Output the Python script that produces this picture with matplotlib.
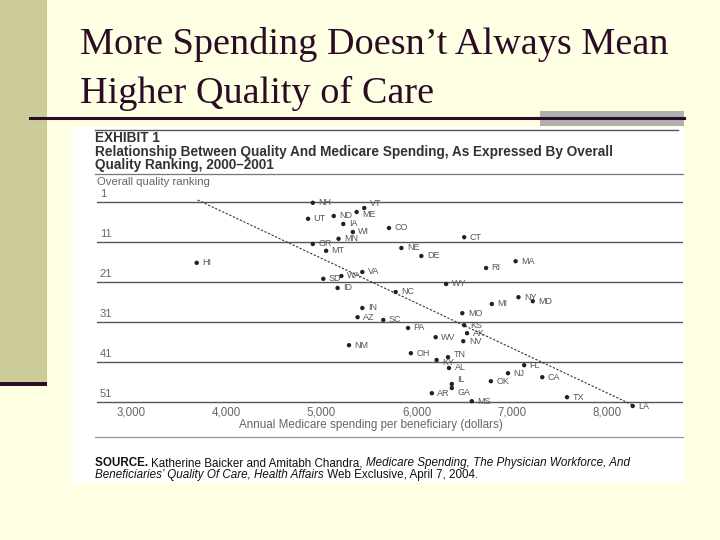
import matplotlib
matplotlib.use('Agg')
import matplotlib.pyplot as plt
from matplotlib.patches import Rectangle
from matplotlib.lines import Line2D

# state, annual Medicare spending per beneficiary, overall quality rank
states = ['NH', 'VT', 'ME', 'ND', 'UT', 'IA', 'WI', 'CO', 'MN', 'OR',
          'MT', 'HI', 'VA', 'WA', 'SD', 'ID', 'NE', 'DE', 'CT', 'MA',
          'RI', 'WY', 'NC', 'NY', 'MD', 'MI', 'MO', 'KS', 'AK', 'NV',
          'PA', 'SC', 'WV', 'OH', 'TN', 'KY', 'AL', 'FL', 'NJ', 'CA',
          'OK', 'IL', 'GA', 'AR', 'MS', 'TX', 'LA', 'IN', 'AZ', 'NM']
spending = [4910, 5450, 5370, 5130, 4860, 5230, 5330, 5710, 5180, 4910,
            5050, 3690, 5430, 5210, 5020, 5170, 5840, 6050, 6500, 7040,
            6730, 6310, 5780, 7070, 7220, 6790, 6480, 6500, 6530, 6490,
            5910, 5650, 6200, 5940, 6330, 6210, 6340, 7130, 6960, 7320,
            6780, 6370, 6370, 6160, 6580, 7580, 8270, 5430, 5380, 5290]
quality_rank = [1.2, 2.5, 3.5, 4.5, 5.2, 6.5, 8.5, 7.5, 10.2, 11.5,
                13.2, 16.2, 18.5, 19.5, 20.2, 22.5, 12.5, 14.5, 9.8, 15.8,
                17.5, 21.5, 23.5, 24.8, 25.8, 26.5, 28.8, 31.8, 33.8, 35.8,
                32.5, 30.5, 34.8, 38.8, 39.8, 40.5, 42.5, 41.8, 43.8, 44.8,
                45.8, 46.5, 47.5, 48.8, 50.8, 49.8, 52.0, 27.5, 29.8, 36.8]

# fitted trend line end points
trend_spending = [3700, 8270]
trend_rank = [0.5, 51.75]

rank_ticks = [1, 11, 21, 31, 41, 51]
spend_ticks = [3000, 4000, 5000, 6000, 7000, 8000]

# small label nudges (points) where the original moves labels off the default
label_nudge = {'VT': (4, 3), 'ME': (4, -2), 'IL': (4, 3), 'GA': (4, -3),
               'TN': (4, 2), 'KY': (4, -2)}

W, H = 720, 540


def fx(px):
    return px / W


def fy(py):
    return 1 - py / H


bg = '#ffffe3'
dark = '#2b0b26'
ink = '#333333'
soft = '#666666'

fig = plt.figure(figsize=(7.2, 5.4), dpi=100)
fig.patch.set_facecolor(bg)

# slide decorations
fig.patches.append(Rectangle((0, fy(383)), fx(47), 383 / H, transform=fig.transFigure,
                             facecolor='#cccc99', edgecolor='none', zorder=0))
fig.patches.append(Rectangle((0, fy(386)), fx(47), 4 / H, transform=fig.transFigure,
                             facecolor=dark, edgecolor='none', zorder=1))
fig.patches.append(Rectangle((fx(540), fy(126)), fx(144), 15 / H, transform=fig.transFigure,
                             facecolor='#b0b0b0', edgecolor='none', zorder=1))
fig.lines.append(Line2D([fx(30), fx(684)], [fy(118), fy(118)], transform=fig.transFigure,
                        color=dark, lw=2.2, zorder=2))

fig.text(fx(80), fy(45), 'More Spending Doesn\u2019t Always Mean', family='Liberation Serif',
         fontsize=27.5, color=dark, va='center')
fig.text(fx(80), fy(93), 'Higher Quality of Care', family='Liberation Serif',
         fontsize=27.5, color=dark, va='center')

# scanned exhibit area
fig.patches.append(Rectangle((fx(73), fy(483)), fx(611), 356 / H, transform=fig.transFigure,
                             facecolor='white', edgecolor='none', zorder=1))
fig.lines.append(Line2D([fx(95), fx(678)], [fy(130), fy(130)], transform=fig.transFigure,
                        color='#555555', lw=1.0, zorder=2))
fig.lines.append(Line2D([fx(95), fx(683)], [fy(174), fy(174)], transform=fig.transFigure,
                        color='#777777', lw=0.9, zorder=2))
fig.lines.append(Line2D([fx(95), fx(683)], [fy(437), fy(437)], transform=fig.transFigure,
                        color='#999999', lw=0.9, zorder=2))

head = dict(family='Liberation Sans', fontweight='bold', fontsize=9.8, color=ink,
            va='center', zorder=3)
fig.text(fx(95), fy(138), 'EXHIBIT 1', **head)
fig.text(fx(95), fy(152), 'Relationship Between Quality And Medicare Spending, As Expressed By Overall',
         **head)
fig.text(fx(95), fy(165), 'Quality Ranking, 2000\u20132001', **head)
fig.text(fx(97), fy(182), 'Overall quality ranking', family='Liberation Sans',
         fontsize=8.2, color=soft, va='center', zorder=3)

# chart axes: pixel 131 -> 3000, 607 -> 8000 ; pixel 202 -> rank 1, 402 -> rank 51
ax = fig.add_axes([fx(97), fy(406), fx(683 - 97), (406 - 195) / H], zorder=4)
ax.set_facecolor('none')
ax.set_xlim(3000 + (97 - 131) * 5000 / 476, 3000 + (683 - 131) * 5000 / 476)
ax.set_ylim(1 + (406 - 202) / 4, 1 + (195 - 202) / 4)
for s in ax.spines.values():
    s.set_visible(False)
ax.set_yticks([])
ax.set_xticks(spend_ticks)
ax.set_xticklabels([f'{v:,}' for v in spend_ticks], family='Liberation Sans',
                   fontsize=8.3, color=soft)
ax.tick_params(axis='x', length=0, pad=0.5)

x0 = ax.get_xlim()[0]
for r in rank_ticks:
    ax.axhline(r, color='#555555', lw=1.0, zorder=1)
    ax.text(x0 + 30, r - 0.7, str(r), family='Liberation Sans', fontsize=8,
            color=soft, va='bottom', ha='left')

ax.plot(trend_spending, trend_rank, color='#333333', lw=0.8, ls=(0, (2, 1.5)),
        zorder=2, clip_on=False)
ax.scatter(spending, quality_rank, s=10, color='#222222', zorder=3, clip_on=False,
           edgecolors='none')
for st, xv, yv in zip(states, spending, quality_rank):
    dx, dy = label_nudge.get(st, (4, 0))
    ax.annotate(st, (xv, yv), xytext=(dx, dy), textcoords='offset points',
                family='Liberation Sans', fontsize=6.5, color='#555555',
                va='center', ha='left', annotation_clip=False)

fig.text(fx(371), fy(425), 'Annual Medicare spending per beneficiary (dollars)',
         family='Liberation Sans', fontsize=8.4, color=soft, ha='center', va='center', zorder=5)

# source note, written in runs of mixed style
fig.canvas.draw()
renderer = fig.canvas.get_renderer()


def runs(parts, xpx, ypx):
    x = fx(xpx)
    for txt, weight, style in parts:
        t = fig.text(x, fy(ypx), txt, family='Liberation Sans', fontsize=8.4,
                     fontweight=weight, fontstyle=style, color='#111111',
                     va='center', zorder=5)
        bb = t.get_window_extent(renderer=renderer)
        x += bb.width / W


runs([('SOURCE. ', 'bold', 'normal'),
      ('Katherine Baicker and Amitabh Chandra, ', 'normal', 'normal'),
      ('Medicare Spending, The Physician Workforce, And', 'normal', 'italic')], 95, 463)
runs([('Beneficiaries\u2019 Quality Of Care, ', 'normal', 'italic'),
      ('Health Affairs', 'normal', 'italic'),
      (' Web Exclusive, April 7, 2004.', 'normal', 'normal')], 95, 475)

fig.savefig('out.png', dpi=100, facecolor=bg)
